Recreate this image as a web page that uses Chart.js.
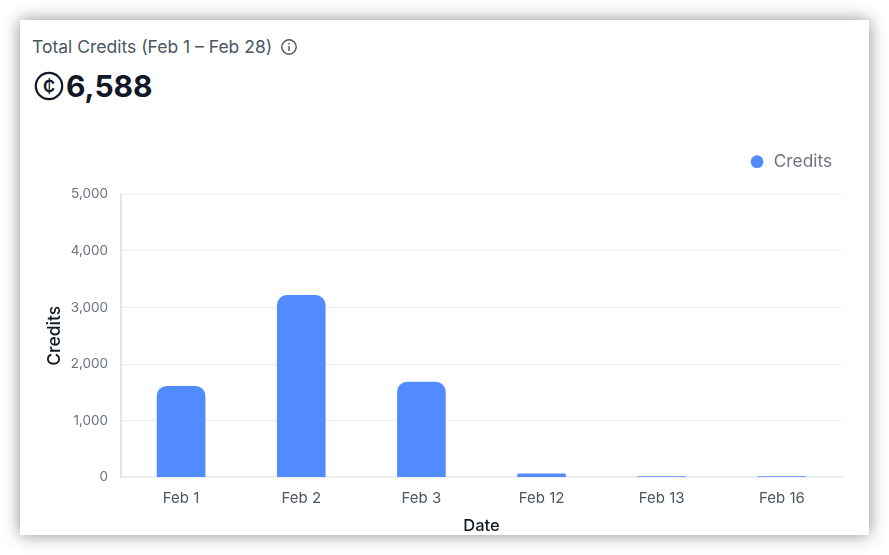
<!DOCTYPE html>
<html>
<head>
<meta charset="utf-8">
<script src="https://cdn.jsdelivr.net/npm/chart.js@4"></script>
<style>
  html, body { margin: 0; padding: 0; background: #fff; width: 889px; height: 555px; overflow: hidden; font-family: Inter, sans-serif; }
  #card { position: absolute; left: 20px; top: 20px; width: 849px; height: 515px; background: #fff; box-shadow: 0 0 16px rgba(0,0,0,0.45); }
  #title { position: absolute; left: 12px; top: 17px; font-size: 17.5px; line-height: 20px; color: #4b5563; white-space: nowrap; }
  #info { position: absolute; left: 260px; top: 18px; }
  #total { position: absolute; left: 14px; top: 46px; font-size: 30px; line-height: 40px; font-weight: 700; color: #111827; white-space: nowrap; display: flex; align-items: center; }
  #total svg { margin-right: 2px; }
  #wrap { position: absolute; left: 0; top: 123px; width: 849px; height: 393px; }
</style>
</head>
<body>
<div id="card">
  <div id="title">Total Credits (Feb 1 – Feb 28)</div>
  <svg id="info" width="18" height="18" viewBox="0 0 18 18">
    <circle cx="9" cy="9" r="7.2" fill="none" stroke="#4b5563" stroke-width="1.4"/>
    <rect x="8.3" y="8" width="1.4" height="5" fill="#4b5563"/>
    <rect x="8.3" y="5" width="1.4" height="1.6" fill="#4b5563"/>
  </svg>
  <div id="total">
    <svg width="30" height="30" viewBox="0 0 30 30">
      <circle cx="15" cy="15" r="13.2" fill="none" stroke="#111827" stroke-width="2.2"/>
      <text x="15" y="22.5" text-anchor="middle" font-family="Inter" font-size="22" font-weight="500" fill="#111827">¢</text>
    </svg>
    <span>6,588</span>
  </div>
  <div id="wrap"><canvas id="credits-chart"></canvas></div>
</div>
<script>
const categories = ["Feb 1", "Feb 2", "Feb 3", "Feb 12", "Feb 13", "Feb 16"];
const credits = [1608, 3215, 1680, 60, 13, 12];

const ctx = document.getElementById("credits-chart").getContext("2d");

// more room under the legend than labels.padding gives
const legendGap = {
  id: "legendGap",
  beforeInit(chart) {
    const fit = chart.legend.fit;
    chart.legend.fit = function () {
      fit.call(this);
      this.height += 14;
    };
  },
};

new Chart(ctx, {
  type: "bar",
  plugins: [legendGap],
  data: {
    labels: categories,
    datasets: [
      {
        label: "Credits",
        data: credits,
        backgroundColor: "#528bff",
        borderWidth: 0,
        barThickness: 48,
        borderRadius: { topLeft: 10, topRight: 10, bottomLeft: 0, bottomRight: 0 },
        borderSkipped: false,
      },
    ],
  },
  options: {
    responsive: true,
    maintainAspectRatio: false,
    animation: false,
    layout: { padding: { left: 24, right: 27, top: 0, bottom: 0 } },
    plugins: {
      legend: {
        position: "top",
        align: "end",
        labels: {
          usePointStyle: true,
          pointStyle: "circle",
          boxWidth: 16,
          boxHeight: 9,
          padding: 10,
          color: "#6b7280",
          font: { family: "Inter", size: 17.3 },
        },
      },
      tooltip: { enabled: false },
    },
    scales: {
      x: {
        grid: { display: false },
        border: { color: "#eeeeee", width: 2 },
        ticks: { color: "#4b5563", font: { family: "Inter", size: 15 }, padding: 4 },
        title: { display: true, text: "Date", color: "#111827", font: { family: "Inter", size: 16.5, weight: 500 }, padding: { top: 5, bottom: 0 } },
      },
      y: {
        min: 0,
        max: 5000,
        afterFit: (scale) => { scale.width = 77; },
        grid: { color: "#eeeeee", drawTicks: false },
        border: { color: "#e5e5e5", width: 2 },
        ticks: {
          stepSize: 1000,
          color: "#6b7280",
          padding: 13,
          font: { family: "Inter", size: 13.5 },
          callback: (v) => v.toLocaleString("en-US"),
        },
        title: { display: true, text: "Credits", color: "#111827", font: { family: "Inter", size: 17.5, weight: 500 }, padding: { top: 0, bottom: 7 } },
      },
    },
  },
});
</script>
</body>
</html>
